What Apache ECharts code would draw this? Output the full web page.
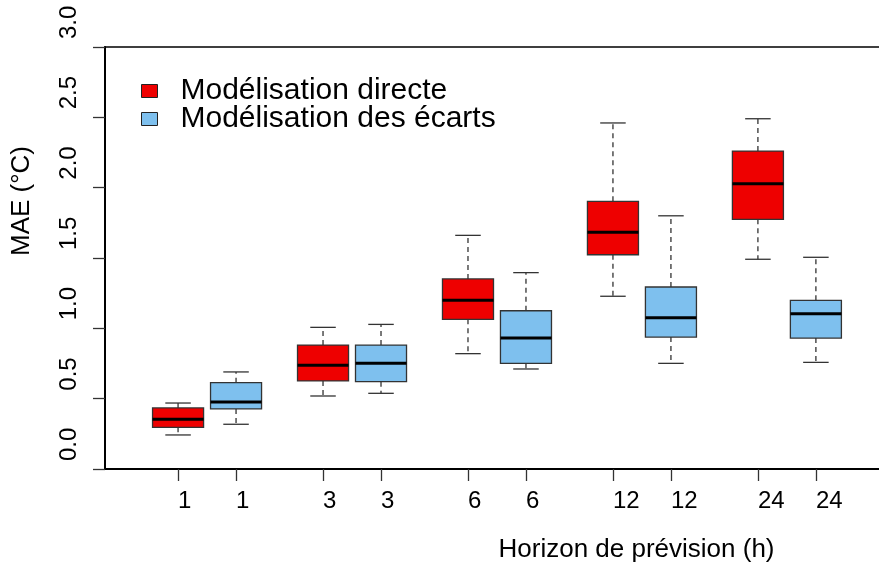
<!DOCTYPE html>
<html>
<head>
<meta charset="utf-8">
<script src="https://cdn.jsdelivr.net/npm/echarts@6/dist/echarts.min.js"></script>
<style>
  html, body { margin: 0; padding: 0; background: #fff; }
  #chart { width: 879px; height: 565px; }
</style>
</head>
<body>
<div id="chart"></div>
<script>
// horizons (h) and box stats [min, q1, median, q3, max]
var horizons = ["1", "3", "6", "12", "24"];
var directe = [
  [0.242, 0.296, 0.353, 0.434, 0.469],
  [0.519, 0.626, 0.737, 0.881, 1.007],
  [0.820, 1.064, 1.199, 1.351, 1.661],
  [1.228, 1.523, 1.683, 1.903, 2.460],
  [1.491, 1.775, 2.028, 2.260, 2.490]
];
var ecarts = [
  [0.318, 0.427, 0.476, 0.614, 0.690],
  [0.538, 0.621, 0.751, 0.881, 1.028],
  [0.711, 0.751, 0.931, 1.125, 1.396],
  [0.751, 0.938, 1.076, 1.294, 1.800],
  [0.758, 0.931, 1.104, 1.199, 1.505]
];
var yTicks = [0, 0.5, 1, 1.5, 2, 2.5, 3];

var FONT = "Liberation Sans, Arial, sans-serif";
var RED = "#EE0000";
var BLUE = "#7EC0EE";

// box position: pairs side by side, groups 2.5 apart
function pos(g, s) { return 1 + 2.5 * g + s; }

function build(stats, s) {
  return stats.map(function (st, g) { return [pos(g, s)].concat(st); });
}

var tickPos = [];
horizons.forEach(function (h, g) { tickPos.push(pos(g, 0), pos(g, 1)); });

function renderBox(params, api) {
  var x = api.value(0);
  var lo = api.coord([x, api.value(1)]);
  var q1 = api.coord([x, api.value(2)]);
  var md = api.coord([x, api.value(3)]);
  var q3 = api.coord([x, api.value(4)]);
  var hi = api.coord([x, api.value(5)]);
  var half = api.size([0.88, 0])[0] / 2;
  var cap = half / 2;
  var cx = lo[0];
  var fill = api.visual("color");
  var dash = { stroke: "#333", lineWidth: 1.3, lineDash: [5, 4] };
  var solid = { stroke: "#333", lineWidth: 1.3 };
  return {
    type: "group",
    children: [
      { type: "line", shape: { x1: cx, y1: q3[1], x2: cx, y2: hi[1] }, style: dash },
      { type: "line", shape: { x1: cx, y1: q1[1], x2: cx, y2: lo[1] }, style: dash },
      { type: "line", shape: { x1: cx - cap, y1: hi[1], x2: cx + cap, y2: hi[1] }, style: solid },
      { type: "line", shape: { x1: cx - cap, y1: lo[1], x2: cx + cap, y2: lo[1] }, style: solid },
      { type: "rect", shape: { x: cx - half, y: q3[1], width: half * 2, height: q1[1] - q3[1] },
        style: { fill: fill, stroke: "#333", lineWidth: 1.3 } },
      { type: "line", shape: { x1: cx - half, y1: md[1], x2: cx + half, y2: md[1] },
        style: { stroke: "#000", lineWidth: 3 } }
    ]
  };
}

var myChart = echarts.init(document.getElementById("chart"));
var option = {
  animation: false,
  textStyle: { fontFamily: FONT },
  grid: {
    left: 105, right: -3, top: 47, bottom: 96,
    outerBoundsMode: "none", containLabel: false,
    show: true, borderColor: "#000", borderWidth: 1.5
  },
  legend: {
    orient: "vertical",
    left: 141,
    top: 76,
    padding: 0,
    itemWidth: 16,
    itemHeight: 13,
    itemGap: -2,
    icon: "rect",
    textStyle: { fontSize: 30, color: "#000", fontFamily: FONT, lineHeight: 30, padding: [0, 0, 0, 18] },
    data: [
      { name: "Modélisation directe", itemStyle: { color: RED, borderColor: "#222", borderWidth: 1 } },
      { name: "Modélisation des écarts", itemStyle: { color: BLUE, borderColor: "#222", borderWidth: 1 } }
    ]
  },
  xAxis: {
    type: "value",
    min: -0.26,
    max: 13.14,
    name: "Horizon de prévision (h)",
    nameLocation: "middle",
    nameGap: 68,
    nameTextStyle: { fontSize: 26, color: "#000", fontFamily: FONT, padding: [0, 0, 0, 286] },
    splitLine: { show: false },
    axisLine: { onZero: false, lineStyle: { color: "#000", width: 2 } },
    axisTick: { show: true, length: 12, customValues: tickPos, lineStyle: { color: "#333", width: 1.3 } },
    axisLabel: {
      customValues: tickPos,
      align: "left",
      margin: 20,
      fontSize: 24,
      color: "#000",
      fontFamily: FONT,
      formatter: function (v) { return horizons[Math.floor((v - 1) / 2.5 + 1e-6)]; }
    }
  },
  yAxis: {
    type: "value",
    min: 0,
    max: 3,
    interval: 0.5,
    name: "MAE (°C)",
    nameLocation: "middle",
    nameRotate: 90,
    nameGap: 70,
    nameTextStyle: { fontSize: 26, color: "#000", fontFamily: FONT, padding: [0, 0, 0, 114] },
    splitLine: { show: false },
    axisLine: { show: true, onZero: false, lineStyle: { color: "#000", width: 2 } },
    axisTick: { show: true, length: 12, lineStyle: { color: "#333", width: 1.3 } },
    axisLabel: {
      rotate: 90,
      align: "left",
      verticalAlign: "middle",
      margin: 36,
      fontSize: 24,
      color: "#000",
      fontFamily: FONT,
      customValues: yTicks,
      padding: [0, 0, 0, 8],
      formatter: function (v) { return v.toFixed(1); }
    }
  },
  series: [
    {
      name: "Modélisation directe",
      type: "custom",
      renderItem: renderBox,
      itemStyle: { color: RED },
      encode: { x: 0, y: [1, 2, 3, 4, 5] },
      data: build(directe, 0)
    },
    {
      name: "Modélisation des écarts",
      type: "custom",
      renderItem: renderBox,
      itemStyle: { color: BLUE },
      encode: { x: 0, y: [1, 2, 3, 4, 5] },
      data: build(ecarts, 1)
    }
  ]
};
option && myChart.setOption(option);
</script>
</body>
</html>
